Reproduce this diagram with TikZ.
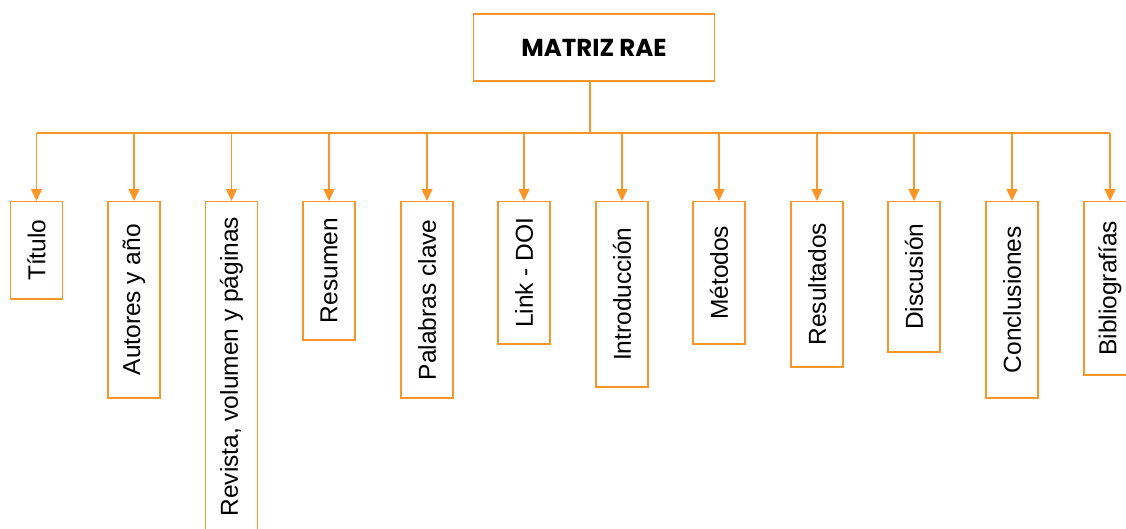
\documentclass[tikz,border=0pt]{standalone}
\usepackage{fontspec}
\setmainfont{Liberation Sans}
\newfontfamily\titlefont{Poppins}
\usetikzlibrary{arrows.meta}
\definecolor{raeorange}{RGB}{250,150,40}
\tikzset{
    root/.style={draw=raeorange, line width=1.5pt, fill=white, inner sep=0pt,
        minimum width=241pt, minimum height=67pt, font=\titlefont\bfseries\fontsize{24.5}{29}\selectfont},
    leaf/.style={draw=raeorange, line width=1.5pt, fill=white, inner sep=0pt, anchor=north,
        minimum width=52pt, font=\fontsize{24.5}{29}\selectfont},
    link/.style={draw=raeorange, line width=1.5pt},
    tip/.style={link, -{Triangle[length=12pt,width=11pt]}}
}
\begin{document}
\begin{tikzpicture}[x=1pt, y=-1pt]
    \useasboundingbox (0,0) rectangle (1126,529);
    \clip (0,0) rectangle (1126,529);
    \node[root] (rae) at (594,47.5) {MATRIZ RAE};
    \coordinate (bus) at (0,133);
    % leaves
    \node[leaf, minimum height=97pt] (titulo) at (36.5,201) {\rotatebox{90}{Título}};
    \node[leaf, minimum height=196pt] (autores) at (134,201) {\rotatebox{90}{Autores y año}};
    \node[leaf, minimum height=330pt] (revista) at (231.5,201) {\rotatebox{90}{Revista, volumen y páginas}};
    \node[leaf, minimum height=138pt] (resumen) at (329,201) {\rotatebox{90}{Resumen}};
    \node[leaf, minimum height=196pt] (palabras) at (427,201) {\rotatebox{90}{Palabras clave}};
    \node[leaf, minimum height=142pt] (doi) at (524,201) {\rotatebox{90}{Link - DOI}};
    \node[leaf, minimum height=185pt] (intro) at (622,201) {\rotatebox{90}{Introducción}};
    \node[leaf, minimum height=142pt] (metodos) at (719,201) {\rotatebox{90}{Métodos}};
    \node[leaf, minimum height=165pt] (resultados) at (817,201) {\rotatebox{90}{Resultados}};
    \node[leaf, minimum height=150pt] (discusion) at (914,201) {\rotatebox{90}{Discusión}};
    \node[leaf, minimum height=196pt] (conclusiones) at (1012,201) {\rotatebox{90}{Conclusiones}};
    \node[leaf, minimum height=173pt] (biblio) at (1110,201) {\rotatebox{90}{Bibliografías}};
    % connectors
    \draw[link] ([xshift=-4pt]rae.south) -- ([xshift=-4pt]rae.south |- bus);
    \draw[link] (titulo.north |- bus) -- (biblio.north |- bus);
    \foreach \leafname in {titulo,autores,revista,resumen,palabras,doi,intro,metodos,resultados,discusion,conclusiones,biblio}
        \draw[tip] (\leafname.north |- bus) -- (\leafname.north);
\end{tikzpicture}
\end{document}
